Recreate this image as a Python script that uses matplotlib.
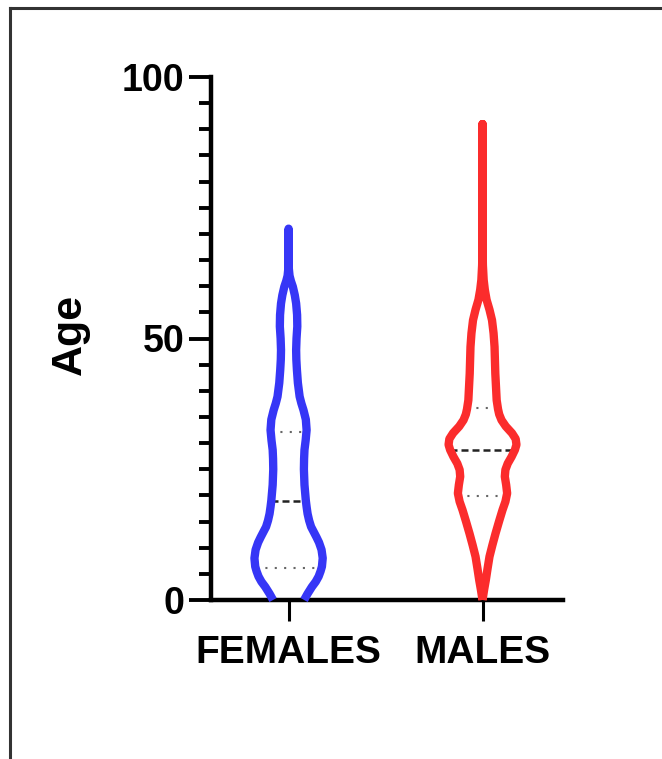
import numpy as np
import matplotlib
matplotlib.use('Agg')
import matplotlib.pyplot as plt
from matplotlib.ticker import MultipleLocator, FixedLocator
from matplotlib.lines import Line2D

plt.rcParams['font.family'] = ['Liberation Sans', 'DejaVu Sans']
plt.rcParams['font.weight'] = 'bold'

groups = ['FEMALES', 'MALES']
colors = ['#3636f6', '#fb2c2c']

# violin outlines: age -> half width (in category units)
fem_age = [0, 1.2, 2.5, 3.5, 4.5, 5.5, 6.4, 8, 9.6, 11, 12, 13, 14, 15.2, 16.5,
           17.8, 19, 22, 25, 27, 28.7, 30.5, 32.5, 34.5, 36.3, 37.6, 38.9, 41.5,
           44, 46, 47.8, 50, 52.3, 54.5, 56.7, 58.3, 59.9, 61, 62, 63.5, 71]
fem_hw = [0.080, 0.098, 0.120, 0.140, 0.155, 0.165, 0.172, 0.176, 0.170, 0.157,
          0.144, 0.130, 0.116, 0.106, 0.098, 0.093, 0.089, 0.082, 0.079, 0.080,
          0.082, 0.088, 0.093, 0.089, 0.077, 0.066, 0.057, 0.048, 0.043, 0.040,
          0.039, 0.041, 0.045, 0.044, 0.039, 0.032, 0.022, 0.012, 0.005, 0.001,
          0.0]

male_age = [0, 1.9, 3.8, 6, 8.3, 10.5, 12.7, 15, 17.2, 18.8, 20.4, 22, 23.6,
            24.9, 26.1, 27.4, 28.7, 29.7, 30.8, 31.9, 33.2, 34.4, 35.5, 36.5,
            38.2, 43.3, 48.4, 51, 53.5, 55.5, 57.4, 59.3, 61.2, 64, 68, 91]
male_hw = [0.0, 0.008, 0.017, 0.026, 0.036, 0.051, 0.067, 0.085, 0.103, 0.118,
           0.127, 0.122, 0.115, 0.118, 0.130, 0.150, 0.167, 0.175, 0.171, 0.152,
           0.120, 0.098, 0.086, 0.080, 0.073, 0.066, 0.062, 0.057, 0.049, 0.036,
           0.021, 0.012, 0.006, 0.002, 0.0, 0.0]

# quartiles: q1, median, q3
fem_quart = [6.2, 18.9, 32.2]
male_quart = [19.9, 28.7, 36.8]

fig = plt.figure(figsize=(6.62, 7.59), dpi=100)
ax = fig.add_axes([211/662, 159/759, 352/662, 523/759])

profiles = [(fem_age, fem_hw, fem_quart), (male_age, male_hw, male_quart)]
for i, (ages, hw, q) in enumerate(profiles):
    ages = np.array(ages)
    hw = np.array(hw)
    xs = np.concatenate([i - hw, (i + hw)[::-1]])
    ys = np.concatenate([ages, ages[::-1]])
    ax.plot(xs, ys, color=colors[i], lw=6, solid_joinstyle='round',
            solid_capstyle='butt', clip_on=False, zorder=4)
    for k, qv in enumerate(q):
        w = np.interp(qv, ages, hw)
        if k == 1:
            ax.plot([i - w, i + w], [qv, qv], color='#222222', lw=1.8,
                    ls=(0, (2.8, 1.6)), zorder=3)
        else:
            ax.plot([i - w, i + w], [qv, qv], color='#666666', lw=1.5,
                    ls=(0, (1, 3.5)), zorder=3)

ax.set_xlim(-0.4, 1.415)
ax.set_ylim(0, 100)
ax.set_xticks([0, 1])
ax.set_xticklabels(groups)
ax.yaxis.set_major_locator(FixedLocator([0, 50, 100]))
ax.yaxis.set_minor_locator(MultipleLocator(5))

for s in ['top', 'right']:
    ax.spines[s].set_visible(False)
for s in ['left', 'bottom']:
    ax.spines[s].set_linewidth(3.2)
    ax.spines[s].set_capstyle('projecting')

ax.tick_params(axis='y', which='major', length=15.5, width=2.8, labelsize=27, pad=3.5)
ax.tick_params(axis='y', which='minor', length=8.5, width=2.8)
ax.tick_params(axis='x', which='major', length=15, width=2.2, labelsize=28, pad=10)

ax.set_ylabel('Age', fontsize=31, fontweight='bold')
ax.yaxis.set_label_coords(-0.344, 0.507)

# frame around the picture
fig.add_artist(Line2D([10/662, 10/662], [0, 1 - 8/759], transform=fig.transFigure,
                      color='#333333', lw=2.2))
fig.add_artist(Line2D([10/662, 1], [1 - 8/759, 1 - 8/759], transform=fig.transFigure,
                      color='#333333', lw=2.2))

fig.savefig('out.png', dpi=100)
